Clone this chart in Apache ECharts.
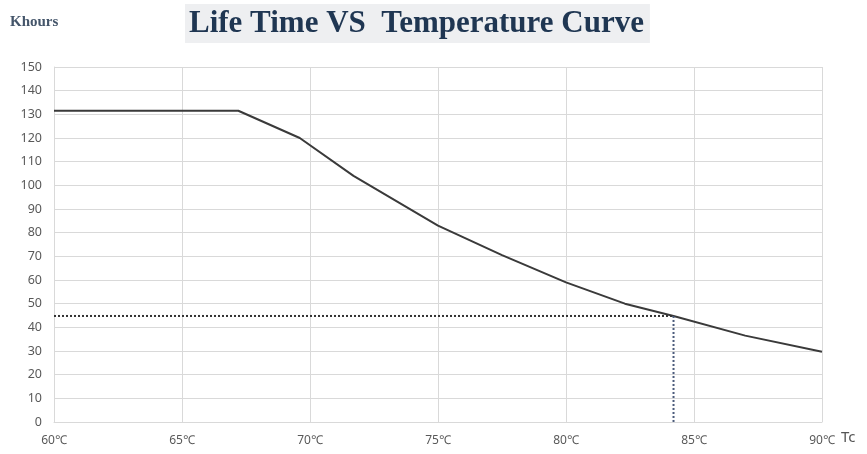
<!DOCTYPE html>
<html><head><meta charset="utf-8">
<script src="https://cdn.jsdelivr.net/npm/echarts@6/dist/echarts.min.js"></script>
<style>html,body{margin:0;padding:0;background:#fff}#c{width:867px;height:454px}</style>
</head><body><div id="c"></div>
<script>
const temps = [60, 67.2, 69.6, 71.7, 75, 77.5, 80, 82.3, 84.2, 87, 90];
const lifeK = [131.5, 131.5, 120, 104, 83, 70.5, 59, 50, 44.8, 36.5, 29.7];
const refTemp = 84.2;
const refLife = 44.8;
const xTicks = [60, 65, 70, 75, 80, 85, 90];
const yTicks = [0, 10, 20, 30, 40, 50, 60, 70, 80, 90, 100, 110, 120, 130, 140, 150];

const chart = echarts.init(document.getElementById('c'));
chart.setOption({
  animation: false,
  title: {
    text: 'Life Time VS  Temperature Curve',
    left: 185, top: 4,
    padding: [4, 6, 4, 4],
    backgroundColor: '#eeeff1',
    textStyle: {fontFamily: 'Liberation Serif', fontWeight: 'bold', fontSize: 31, color: '#1f3652'}
  },
  graphic: [
    {type: 'text', left: 10, top: 15, style: {text: 'Khours', font: 'bold 15px "Liberation Serif"', fill: '#44556a'}},
    {type: 'text', left: 841, top: 430, style: {text: 'Tc', font: '15px "Noto Sans"', fill: '#555'}}
  ],
  grid: {left: 54, right: 45, top: 67, bottom: 32},
  xAxis: {
    type: 'value', min: xTicks[0], max: xTicks[xTicks.length - 1], interval: 5,
    axisLine: {show: true, lineStyle: {color: '#d9d9d9'}},
    axisTick: {show: false},
    axisLabel: {formatter: '{value}℃', color: '#595959', fontSize: 12, margin: 13, fontFamily: 'Noto Sans'},
    splitLine: {show: true, lineStyle: {color: '#d9d9d9'}}
  },
  yAxis: {
    type: 'value', min: yTicks[0], max: yTicks[yTicks.length - 1], interval: 10,
    axisLine: {show: true, lineStyle: {color: '#d9d9d9'}},
    axisTick: {show: false},
    axisLabel: {color: '#595959', fontSize: 12.5, margin: 12, fontFamily: 'Noto Sans'},
    splitLine: {show: true, lineStyle: {color: '#d9d9d9'}}
  },
  series: [
    {
      type: 'line', data: temps.map((t, i) => [t, lifeK[i]]),
      symbol: 'none', lineStyle: {color: '#3a3a3a', width: 2}
    },
    {
      type: 'line', data: [[temps[0], refLife], [refTemp, refLife]],
      symbol: 'none', lineStyle: {color: '#333', width: 2, type: 'dotted'}
    },
    {
      type: 'line', data: [[refTemp, refLife], [refTemp, 0]],
      symbol: 'none', lineStyle: {color: '#4a5a7a', width: 2, type: 'dotted'}
    }
  ]
});
</script></body></html>
